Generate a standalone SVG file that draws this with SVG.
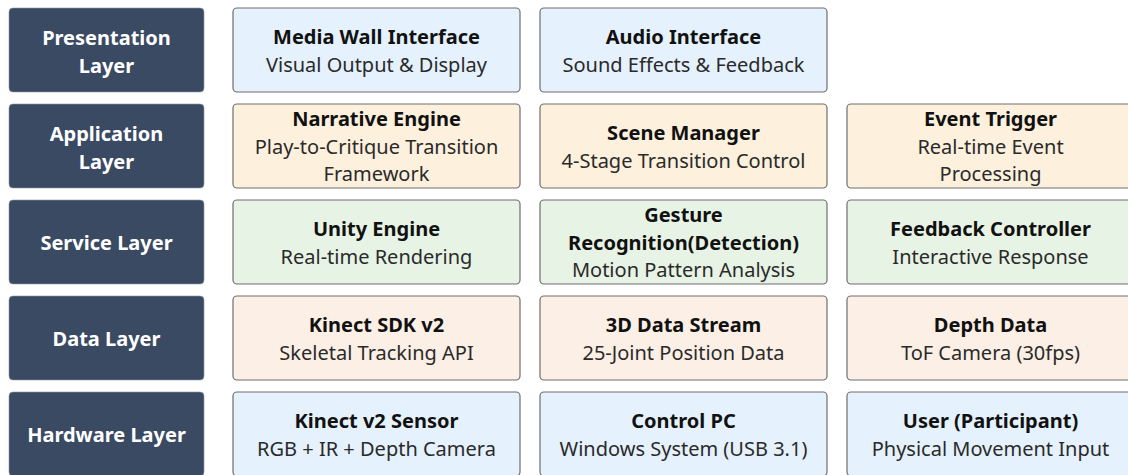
<svg xmlns="http://www.w3.org/2000/svg" width="1128" height="475" viewBox="0 0 1128 475">
<style>
  .layer{fill:#3a4a63;stroke:#8a93a3;stroke-width:0.6}
  .lt{font-family:"Noto Sans","Open Sans",sans-serif;font-size:20px;font-weight:bold;fill:#ffffff;text-anchor:middle}
  .box{stroke:#6e6e6e;stroke-width:1.2}
  .blue{fill:#e5f1fc}
  .orange{fill:#fdf0dd}
  .green{fill:#e7f3e5}
  .peach{fill:#fcefe5}
  .t{font-family:"Noto Sans","Open Sans",sans-serif;font-size:20px;font-weight:bold;fill:#111111;text-anchor:middle}
  .s{font-family:"Noto Sans","Open Sans",sans-serif;font-size:20px;fill:#2a2a2a;text-anchor:middle}
</style>
<rect width="1128" height="475" fill="#ffffff"/>
<g id="layers">
  <g id="layer-presentation"><rect class="layer" x="9" y="8" width="195" height="84" rx="4"/><text class="lt" x="106.5" y="45">Presentation</text><text class="lt" x="106.5" y="73">Layer</text></g>
  <g id="layer-application"><rect class="layer" x="9" y="104" width="195" height="84" rx="4"/><text class="lt" x="106.5" y="141">Application</text><text class="lt" x="106.5" y="169">Layer</text></g>
  <g id="layer-service"><rect class="layer" x="9" y="200" width="195" height="84" rx="4"/><text class="lt" x="106.5" y="250">Service Layer</text></g>
  <g id="layer-data"><rect class="layer" x="9" y="296" width="195" height="84" rx="4"/><text class="lt" x="106.5" y="346">Data Layer</text></g>
  <g id="layer-hardware"><rect class="layer" x="9" y="392" width="195" height="84" rx="4"/><text class="lt" x="106.5" y="442">Hardware Layer</text></g>
</g>
<g id="connectors"></g>
<g id="media-wall"><rect class="box blue" x="233" y="8" width="287" height="84" rx="4"/><text class="t" x="376.5" y="44">Media Wall Interface</text><text class="s" x="376.5" y="71.5">Visual Output &amp; Display</text></g>
<g id="audio-interface"><rect class="box blue" x="540" y="8" width="287" height="84" rx="4"/><text class="t" x="683.5" y="44">Audio Interface</text><text class="s" x="683.5" y="71.5">Sound Effects &amp; Feedback</text></g>
<g id="narrative-engine"><rect class="box orange" x="233" y="104" width="287" height="84" rx="4"/><text class="t" x="376.5" y="126">Narrative Engine</text><text class="s" x="376.5" y="153.5">Play-to-Critique Transition</text><text class="s" x="376.5" y="181">Framework</text></g>
<g id="scene-manager"><rect class="box orange" x="540" y="104" width="287" height="84" rx="4"/><text class="t" x="683.5" y="140">Scene Manager</text><text class="s" x="683.5" y="167.5">4-Stage Transition Control</text></g>
<g id="event-trigger"><rect class="box orange" x="847" y="104" width="287" height="84" rx="4"/><text class="t" x="990.5" y="126">Event Trigger</text><text class="s" x="990.5" y="153.5">Real-time Event</text><text class="s" x="990.5" y="181">Processing</text></g>
<g id="unity-engine"><rect class="box green" x="233" y="200" width="287" height="84" rx="4"/><text class="t" x="376.5" y="236">Unity Engine</text><text class="s" x="376.5" y="263.5">Real-time Rendering</text></g>
<g id="gesture-recognition"><rect class="box green" x="540" y="200" width="287" height="84" rx="4"/><text class="t" x="683.5" y="222">Gesture</text><text class="t" x="683.5" y="249.5">Recognition(Detection)</text><text class="s" x="683.5" y="277">Motion Pattern Analysis</text></g>
<g id="feedback-controller"><rect class="box green" x="847" y="200" width="287" height="84" rx="4"/><text class="t" x="990.5" y="236">Feedback Controller</text><text class="s" x="990.5" y="263.5">Interactive Response</text></g>
<g id="kinect-sdk"><rect class="box peach" x="233" y="296" width="287" height="84" rx="4"/><text class="t" x="376.5" y="332">Kinect SDK v2</text><text class="s" x="376.5" y="359.5">Skeletal Tracking API</text></g>
<g id="data-stream"><rect class="box peach" x="540" y="296" width="287" height="84" rx="4"/><text class="t" x="683.5" y="332">3D Data Stream</text><text class="s" x="683.5" y="359.5">25-Joint Position Data</text></g>
<g id="depth-data"><rect class="box peach" x="847" y="296" width="287" height="84" rx="4"/><text class="t" x="990.5" y="332">Depth Data</text><text class="s" x="990.5" y="359.5">ToF Camera (30fps)</text></g>
<g id="kinect-sensor"><rect class="box blue" x="233" y="392" width="287" height="84" rx="4"/><text class="t" x="376.5" y="428">Kinect v2 Sensor</text><text class="s" x="376.5" y="455.5">RGB + IR + Depth Camera</text></g>
<g id="control-pc"><rect class="box blue" x="540" y="392" width="287" height="84" rx="4"/><text class="t" x="683.5" y="428">Control PC</text><text class="s" x="683.5" y="455.5">Windows System (USB 3.1)</text></g>
<g id="user"><rect class="box blue" x="847" y="392" width="287" height="84" rx="4"/><text class="t" x="990.5" y="428">User (Participant)</text><text class="s" x="990.5" y="455.5">Physical Movement Input</text></g>
</svg>
